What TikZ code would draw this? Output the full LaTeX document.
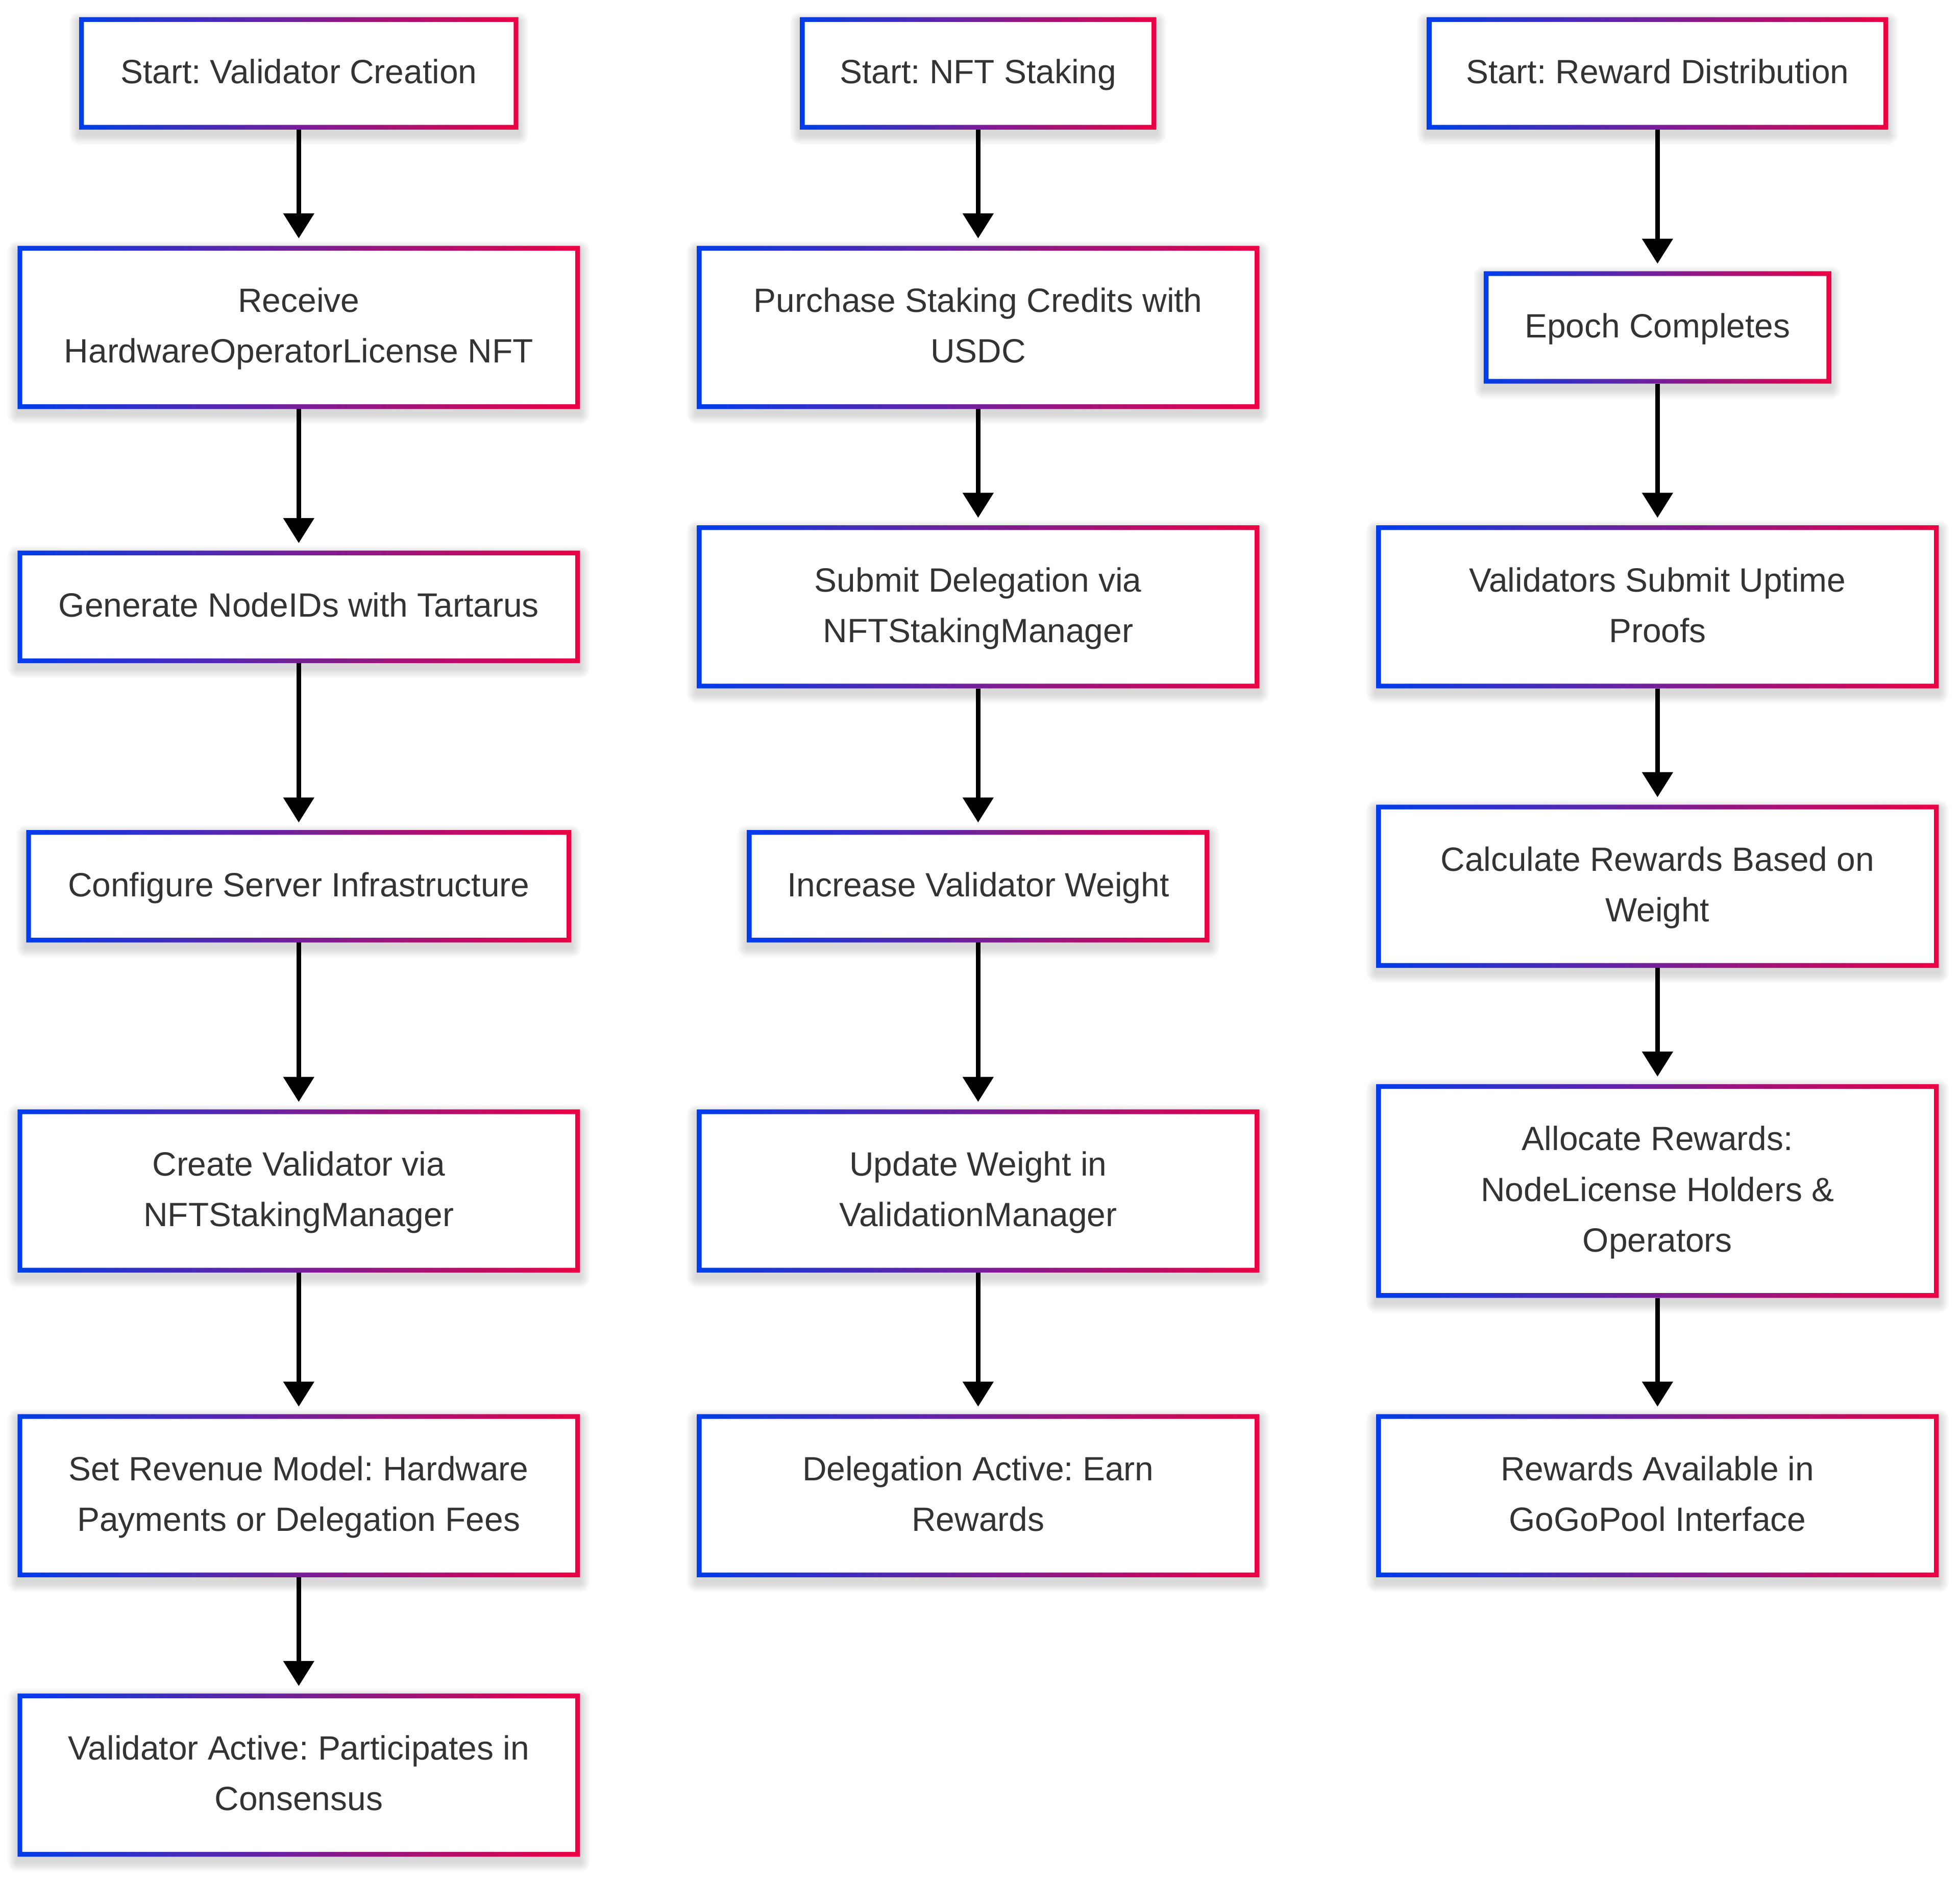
\documentclass[tikz,border=0pt]{standalone}
\usepackage{fontspec}
\setmainfont{Liberation Sans}
\usetikzlibrary{arrows.meta}

\definecolor{gblue}{RGB}{0,61,235}
\definecolor{gred}{RGB}{235,0,68}
\definecolor{ink}{RGB}{51,51,51}

\pgfdeclarelayer{background}
\pgfsetlayers{background,main}

\tikzset{
  stepbox/.style={rectangle, fill=white, inner sep=0pt, outer sep=0pt,
    align=center, text=ink, font=\frenchspacing\fontsize{26.9pt}{40.5pt}\selectfont,
    minimum height=90pt},
  twoline/.style={minimum height=130.5pt},
  threeline/.style={minimum height=171pt},
  flow/.style={-{Triangle[width=24pt,length=20pt]}, line width=3.7pt,
    shorten >=6pt, black},
  wide/.style={minimum width=450pt},
}

\begin{document}
\begin{tikzpicture}[x=1pt,y=-1pt]
\useasboundingbox (0,0) rectangle (1568,1503);

% --- validator creation column ---
\node[stepbox, minimum width=351.4pt] (A1) at (239,58.7) {\strut Start: Validator Creation};
\node[stepbox, wide, twoline] (A2) at (239,261.95) {\strut Receive\\\strut HardwareOperatorLicense NFT};
\node[stepbox, wide] (A3) at (239,485.45) {\strut Generate NodeIDs with Tartarus};
\node[stepbox, minimum width=436pt] (A4) at (239,708.95) {\strut Configure Server Infrastructure};
\node[stepbox, wide, twoline] (A5) at (239,952.7) {\strut Create Validator via\\\strut NFTStakingManager};
\node[stepbox, wide, twoline] (A6) at (239,1196.45) {\strut Set Revenue Model: Hardware\\\strut Payments or Delegation Fees};
\node[stepbox, wide, twoline] (A7) at (239,1419.95) {\strut Validator Active: Participates in\\\strut Consensus};

% --- NFT staking column ---
\node[stepbox, minimum width=285pt] (B1) at (782.5,58.7) {\strut Start: NFT Staking};
\node[stepbox, wide, twoline] (B2) at (782.5,261.95) {\strut Purchase Staking Credits with\\\strut USDC};
\node[stepbox, wide, twoline] (B3) at (782.5,485.45) {\strut Submit Delegation via\\\strut NFTStakingManager};
\node[stepbox, minimum width=370pt] (B4) at (782.5,708.95) {\strut Increase Validator Weight};
\node[stepbox, wide, twoline] (B5) at (782.5,952.7) {\strut Update Weight in\\\strut ValidationManager};
\node[stepbox, wide, twoline] (B6) at (782.5,1196.45) {\strut Delegation Active: Earn\\\strut Rewards};

% --- reward distribution column ---
\node[stepbox, minimum width=369pt] (C1) at (1326,58.7) {\strut Start: Reward Distribution};
\node[stepbox, minimum width=278pt] (C2) at (1326,261.95) {\strut Epoch Completes};
\node[stepbox, wide, twoline] (C3) at (1326,485.45) {\strut Validators Submit Uptime\\\strut Proofs};
\node[stepbox, wide, twoline] (C4) at (1326,708.95) {\strut Calculate Rewards Based on\\\strut Weight};
\node[stepbox, wide, threeline] (C5) at (1326,952.7) {\strut Allocate Rewards:\\\strut NodeLicense Holders \&\\\strut Operators};
\node[stepbox, wide, twoline] (C6) at (1326,1196.45) {\strut Rewards Available in\\\strut GoGoPool Interface};

% soft drop shadows behind every box
\begin{pgfonlayer}{background}
\foreach \n in {A1,A2,A3,A4,A5,A6,A7,B1,B2,B3,B4,B5,B6,C1,C2,C3,C4,C5,C6} {
  \foreach \k [evaluate=\k as \dn using \k+4, evaluate=\k as \up using 4-\k] in {1,...,8} {
    \fill[black, opacity=0.02, rounded corners=\k pt]
      ([shift={(-\k,\dn)}]\n.south west) rectangle ([shift={(\k,\up)}]\n.north east);
  }
}
\end{pgfonlayer}

% connectors
\foreach \s/\t in {A1/A2,A2/A3,A3/A4,A4/A5,A5/A6,A6/A7,
                   B1/B2,B2/B3,B3/B4,B4/B5,B5/B6,
                   C1/C2,C2/C3,C3/C4,C4/C5,C5/C6} {
  \draw[flow] (\s.south) -- (\t.north);
}

% gradient frames
\foreach \n in {A1,A2,A3,A4,A5,A6,A7,B1,B2,B3,B4,B5,B6,C1,C2,C3,C4,C5,C6} {
  \shade[left color=gblue, right color=gred, even odd rule]
    (\n.south west) rectangle (\n.north east)
    ([shift={(3.8,-3.8)}]\n.south west) rectangle ([shift={(-3.8,3.8)}]\n.north east);
}
\end{tikzpicture}
\end{document}
